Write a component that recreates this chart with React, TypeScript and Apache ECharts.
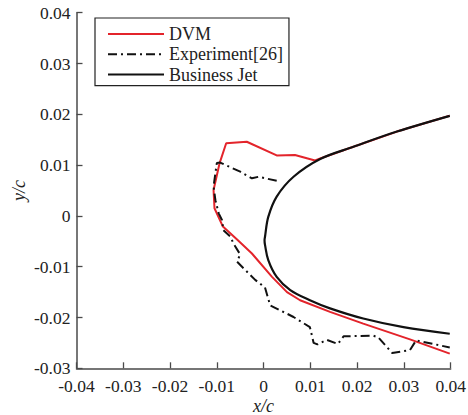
import React, { useEffect, useRef } from "react";
import * as echarts from "echarts";

const xTicks = { min: -0.04, max: 0.04, interval: 0.01 };
const yTicks = { min: -0.03, max: 0.04, interval: 0.01 };

const seriesNames = ["DVM", "Experiment[26]", "Business Jet"];

const dvmX = [0.0398, 0.0285, 0.0192, 0.0121, 0.011, 0.0067, 0.0028, -0.0036, -0.008, -0.0094, -0.0107, -0.0105, -0.0087, -0.0055, -0.0025, 0.0018, 0.005, 0.0078, 0.0142, 0.0213, 0.0313, 0.0398];
const dvmY = [0.0197, 0.0166, 0.0136, 0.0113, 0.0109, 0.012, 0.0119, 0.0146, 0.0143, 0.0104, 0.0051, 0.0015, -0.0021, -0.0048, -0.0074, -0.012, -0.015, -0.0166, -0.0189, -0.0212, -0.0243, -0.0271];

const expX = [0.0028, -0.0011, -0.0025, -0.005, -0.0093, -0.01, -0.0107, -0.0103, -0.0096, -0.0089, -0.0086, -0.0071, -0.0064, -0.005, -0.0057, -0.0018, 0.0003, 0.0014, 0.0064, 0.0099, 0.0107, 0.0115, 0.0135, 0.0159, 0.0171, 0.0235, 0.0245, 0.0275, 0.0313, 0.0326, 0.0398];
const expY = [0.0069, 0.0077, 0.0074, 0.0087, 0.0105, 0.0104, 0.0058, 0.0031, 0.0005, -0.0008, -0.0028, -0.0041, -0.0055, -0.0076, -0.009, -0.0126, -0.0141, -0.0176, -0.0199, -0.0219, -0.025, -0.0253, -0.0244, -0.0252, -0.0237, -0.0236, -0.0239, -0.027, -0.0264, -0.0245, -0.0259];

const jetX = [0.0398, 0.0285, 0.0192, 0.0121, 0.0064, 0.0028, 0.001, 0.0003, 0.0002, 0.0003, 0.001, 0.0028, 0.0057, 0.0099, 0.0142, 0.0213, 0.0299, 0.0398];
const jetY = [0.0197, 0.0166, 0.0136, 0.0112, 0.0077, 0.0038, -0.0002, -0.0041, -0.0048, -0.0057, -0.0087, -0.012, -0.0146, -0.0166, -0.0182, -0.0202, -0.0219, -0.0232];

const zip = (xs: number[], ys: number[]) => xs.map((x, i) => [x, ys[i]]);

const FONT = "Liberation Serif";
const fmt = (v: number) => String(parseFloat(v.toFixed(2)));

export default function App() {
  const ref = useRef<HTMLDivElement>(null);
  useEffect(() => {
    const chart = echarts.init(ref.current!, null, { renderer: "svg" });
    const axisCommon = {
      type: "value" as const,
      axisLine: { show: true, onZero: false, lineStyle: { color: "#4a4a4a", width: 1.5 } },
      axisTick: { show: true, inside: true, length: 6, lineStyle: { color: "#4a4a4a", width: 1.3 } },
      splitLine: { show: false },
      axisLabel: { color: "#222", fontFamily: FONT, fontSize: 17.5, lineHeight: 18, formatter: fmt },
      nameLocation: "middle" as const,
      nameMoveOverlap: false,
      nameTextStyle: { color: "#222", fontFamily: FONT, fontSize: 18, lineHeight: 18, fontStyle: "italic" as const },
    };
    chart.setOption({
      animation: false,
      backgroundColor: "#fff",
      textStyle: { fontFamily: FONT },
      grid: { left: 76.5, right: 17.3, top: 12.7, bottom: 46.7, containLabel: false, outerBoundsMode: "none" },
      xAxis: { ...axisCommon, ...xTicks, name: "x/c", nameGap: 29, axisLabel: { ...axisCommon.axisLabel, margin: 9 } },
      yAxis: { ...axisCommon, ...yTicks, name: "y/c", nameGap: 49, axisLabel: { ...axisCommon.axisLabel, margin: 6 } },
      legend: {
        orient: "vertical",
        left: 95,
        top: 18,
        data: seriesNames,
        backgroundColor: "#fff",
        borderColor: "#222",
        borderWidth: 1.2,
        padding: [7, 6, 2, 12],
        itemWidth: 56,
        itemHeight: 14,
        itemGap: 2.3,
        itemStyle: { opacity: 0 },
        textStyle: { color: "#222", fontFamily: FONT, fontSize: 18, lineHeight: 16 },
      },
      series: [
        {
          name: seriesNames[0],
          type: "line",
          data: zip(dvmX, dvmY),
          showSymbol: false,
          symbol: "none",
          lineStyle: { color: "#e3242b", width: 2 },
          itemStyle: { color: "#e3242b" },
        },
        {
          name: seriesNames[1],
          type: "line",
          data: zip(expX, expY),
          showSymbol: false,
          symbol: "none",
          lineStyle: { color: "#111", width: 2, type: [9, 4, 2, 4] },
          itemStyle: { color: "#111" },
        },
        {
          name: seriesNames[2],
          type: "line",
          data: zip(jetX, jetY),
          showSymbol: false,
          symbol: "none",
          smooth: 0.35,
          lineStyle: { color: "#111", width: 2.2 },
          itemStyle: { color: "#111" },
        },
      ],
    });
    return () => chart.dispose();
  }, []);
  return (
    <div
      ref={ref}
      style={{ position: "fixed", left: 0, top: 0, width: 468, height: 415, background: "#fff" }}
    />
  );
}
